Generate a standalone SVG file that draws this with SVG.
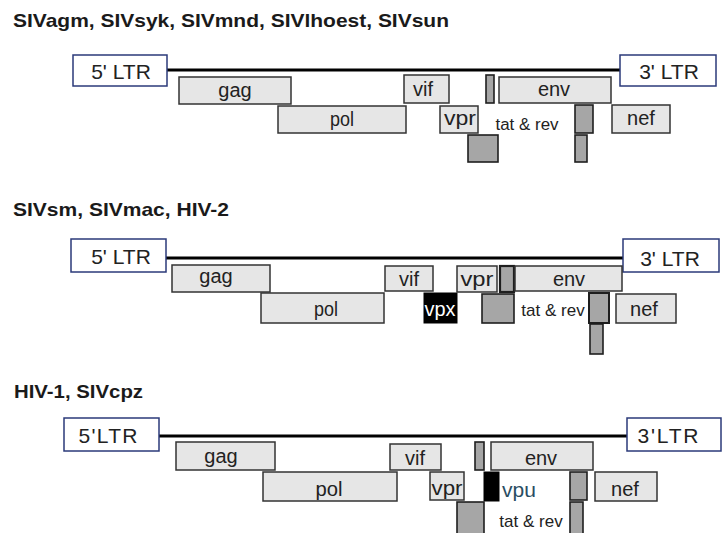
<svg xmlns="http://www.w3.org/2000/svg" width="722" height="533" viewBox="0 0 722 533">
<style>
text{font-family:"Liberation Sans",Arial,sans-serif;fill:#222}
.t{font-size:19px;font-weight:bold;fill:#1a1a1a}
.ltr{fill:#fff;stroke:#2b3a7a;stroke-width:1.5}
.g{fill:#e6e6e6;stroke:#333;stroke-width:1.5}
.d{fill:#a6a6a6;stroke:#1e1e1e;stroke-width:1.6}
.b{fill:#000;stroke:#000;stroke-width:1}
.lt{font-size:21px;text-anchor:middle}
.lb{font-size:20px;text-anchor:middle}
.tr{font-size:17px;text-anchor:middle}
.ln{stroke:#000;stroke-width:3}
</style>

<!-- Panel 1 -->
<text class="t" x="13" y="27" textLength="436" lengthAdjust="spacingAndGlyphs">SIVagm, SIVsyk, SIVmnd, SIVlhoest, SIVsun</text>
<g id="p1-connectors"><line class="ln" x1="167" y1="70" x2="620" y2="70"/></g>
<g id="p1-ltr5"><rect class="ltr" x="73" y="55" width="94" height="31"/><text class="lt" x="121" y="79">5' LTR</text></g>
<g id="p1-ltr3"><rect class="ltr" x="620" y="55" width="96" height="31"/><text class="lt" x="669" y="79">3' LTR</text></g>
<g id="p1-gag"><rect class="g" x="179" y="77" width="112" height="27"/><text class="lb" x="235" y="97">gag</text></g>
<g id="p1-pol"><rect class="g" x="278" y="106" width="128" height="27"/><text class="lb" x="342" y="126" textLength="24" lengthAdjust="spacingAndGlyphs">pol</text></g>
<g id="p1-vif"><rect class="g" x="404" y="75" width="45" height="28"/><text class="lb" x="423" y="96">vif</text></g>
<g id="p1-tat1"><rect class="d" x="486" y="75" width="8" height="28"/></g>
<g id="p1-env"><rect class="g" x="499" y="77" width="112" height="26"/><text class="lb" x="554" y="96">env</text></g>
<g id="p1-vpr"><rect class="g" x="440" y="106" width="38" height="27"/><text class="lb" x="460" y="125" textLength="32" lengthAdjust="spacingAndGlyphs">vpr</text></g>
<g id="p1-tatrev"><text class="tr" x="527" y="130" style="font-size:16px" textLength="63" lengthAdjust="spacingAndGlyphs">tat &amp; rev</text></g>
<g id="p1-tat2"><rect class="d" x="468" y="135" width="30" height="27"/></g>
<g id="p1-rev1"><rect class="d" x="575" y="105" width="18" height="28"/></g>
<g id="p1-rev2"><rect class="d" x="575" y="135" width="12" height="27"/></g>
<g id="p1-nef"><rect class="g" x="612" y="105" width="58" height="28"/><text class="lb" x="641" y="125">nef</text></g>

<!-- Panel 2 -->
<text class="t" x="13" y="216" textLength="216" lengthAdjust="spacingAndGlyphs">SIVsm, SIVmac, HIV-2</text>
<g id="p2-connectors"><line class="ln" x1="166" y1="258" x2="623" y2="258"/></g>
<g id="p2-ltr5"><rect class="ltr" x="71" y="239" width="95" height="33"/><text class="lt" x="121" y="264">5' LTR</text></g>
<g id="p2-ltr3"><rect class="ltr" x="623" y="239" width="96" height="33"/><text class="lt" x="670" y="266">3' LTR</text></g>
<g id="p2-gag"><rect class="g" x="172" y="265" width="98" height="27"/><text class="lb" x="216" y="283">gag</text></g>
<g id="p2-pol"><rect class="g" x="261" y="293" width="123" height="30"/><text class="lb" x="326" y="316" textLength="24" lengthAdjust="spacingAndGlyphs">pol</text></g>
<g id="p2-vif"><rect class="g" x="385" y="266" width="48" height="25"/><text class="lb" x="409" y="286">vif</text></g>
<g id="p2-vpx"><rect class="b" x="424" y="293" width="33" height="30"/><text class="lb" x="440" y="316" style="fill:#fff" textLength="31" lengthAdjust="spacingAndGlyphs">vpx</text></g>
<g id="p2-vpr"><rect class="g" x="457" y="266" width="40" height="26"/><text class="lb" x="477" y="286" textLength="33" lengthAdjust="spacingAndGlyphs">vpr</text></g>
<g id="p2-tat1"><rect class="d" x="500" y="266" width="14" height="26" style="stroke-width:2.2"/></g>
<g id="p2-env"><rect class="g" x="515" y="266" width="107" height="25"/><text class="lb" x="569" y="286">env</text></g>
<g id="p2-tat2"><rect class="d" x="482" y="294" width="32" height="29"/></g>
<g id="p2-tatrev"><text class="tr" x="553" y="316">tat &amp; rev</text></g>
<g id="p2-rev1"><rect class="d" x="589" y="293" width="20" height="30" style="stroke-width:2"/></g>
<g id="p2-rev2"><rect class="d" x="590" y="324" width="13" height="30"/></g>
<g id="p2-nef"><rect class="g" x="616" y="294" width="60" height="29"/><text class="lb" x="644" y="316">nef</text></g>

<!-- Panel 3 -->
<text class="t" x="14" y="398" textLength="129" lengthAdjust="spacingAndGlyphs">HIV-1, SIVcpz</text>
<g id="p3-connectors"><line class="ln" x1="159" y1="436" x2="627" y2="436"/></g>
<g id="p3-ltr5"><rect class="ltr" x="64" y="418" width="95" height="33"/><text class="lt" x="108" y="443" textLength="59" lengthAdjust="spacing">5'LTR</text></g>
<g id="p3-ltr3"><rect class="ltr" x="627" y="418" width="94" height="33"/><text class="lt" x="668" y="443" textLength="61" lengthAdjust="spacing">3'LTR</text></g>
<g id="p3-gag"><rect class="g" x="176" y="442" width="99" height="28"/><text class="lb" x="221" y="463">gag</text></g>
<g id="p3-pol"><rect class="g" x="263" y="472" width="134" height="29"/><text class="lb" x="329" y="496" textLength="27" lengthAdjust="spacingAndGlyphs">pol</text></g>
<g id="p3-vif"><rect class="g" x="390" y="444" width="51" height="26"/><text class="lb" x="415" y="465">vif</text></g>
<g id="p3-tat1"><rect class="d" x="475" y="442" width="9" height="28"/></g>
<g id="p3-env"><rect class="g" x="491" y="442" width="102" height="28"/><text class="lb" x="541" y="465">env</text></g>
<g id="p3-vpr"><rect class="g" x="430" y="472" width="34" height="28"/><text class="lb" x="447" y="495" textLength="31" lengthAdjust="spacingAndGlyphs">vpr</text></g>
<g id="p3-vpu"><rect class="b" x="484" y="472" width="15" height="29"/><text class="lb" x="519" y="497" style="font-size:21px;fill:#2a4d63">vpu</text></g>
<g id="p3-tat2"><rect class="d" x="457" y="502" width="27" height="34"/></g>
<g id="p3-tatrev"><text class="tr" x="531" y="527">tat &amp; rev</text></g>
<g id="p3-rev1"><rect class="d" x="570" y="472" width="17" height="28"/></g>
<g id="p3-rev2"><rect class="d" x="570" y="502" width="13" height="34"/></g>
<g id="p3-nef"><rect class="g" x="595" y="472" width="62" height="29"/><text class="lb" x="625" y="496">nef</text></g>
</svg>
